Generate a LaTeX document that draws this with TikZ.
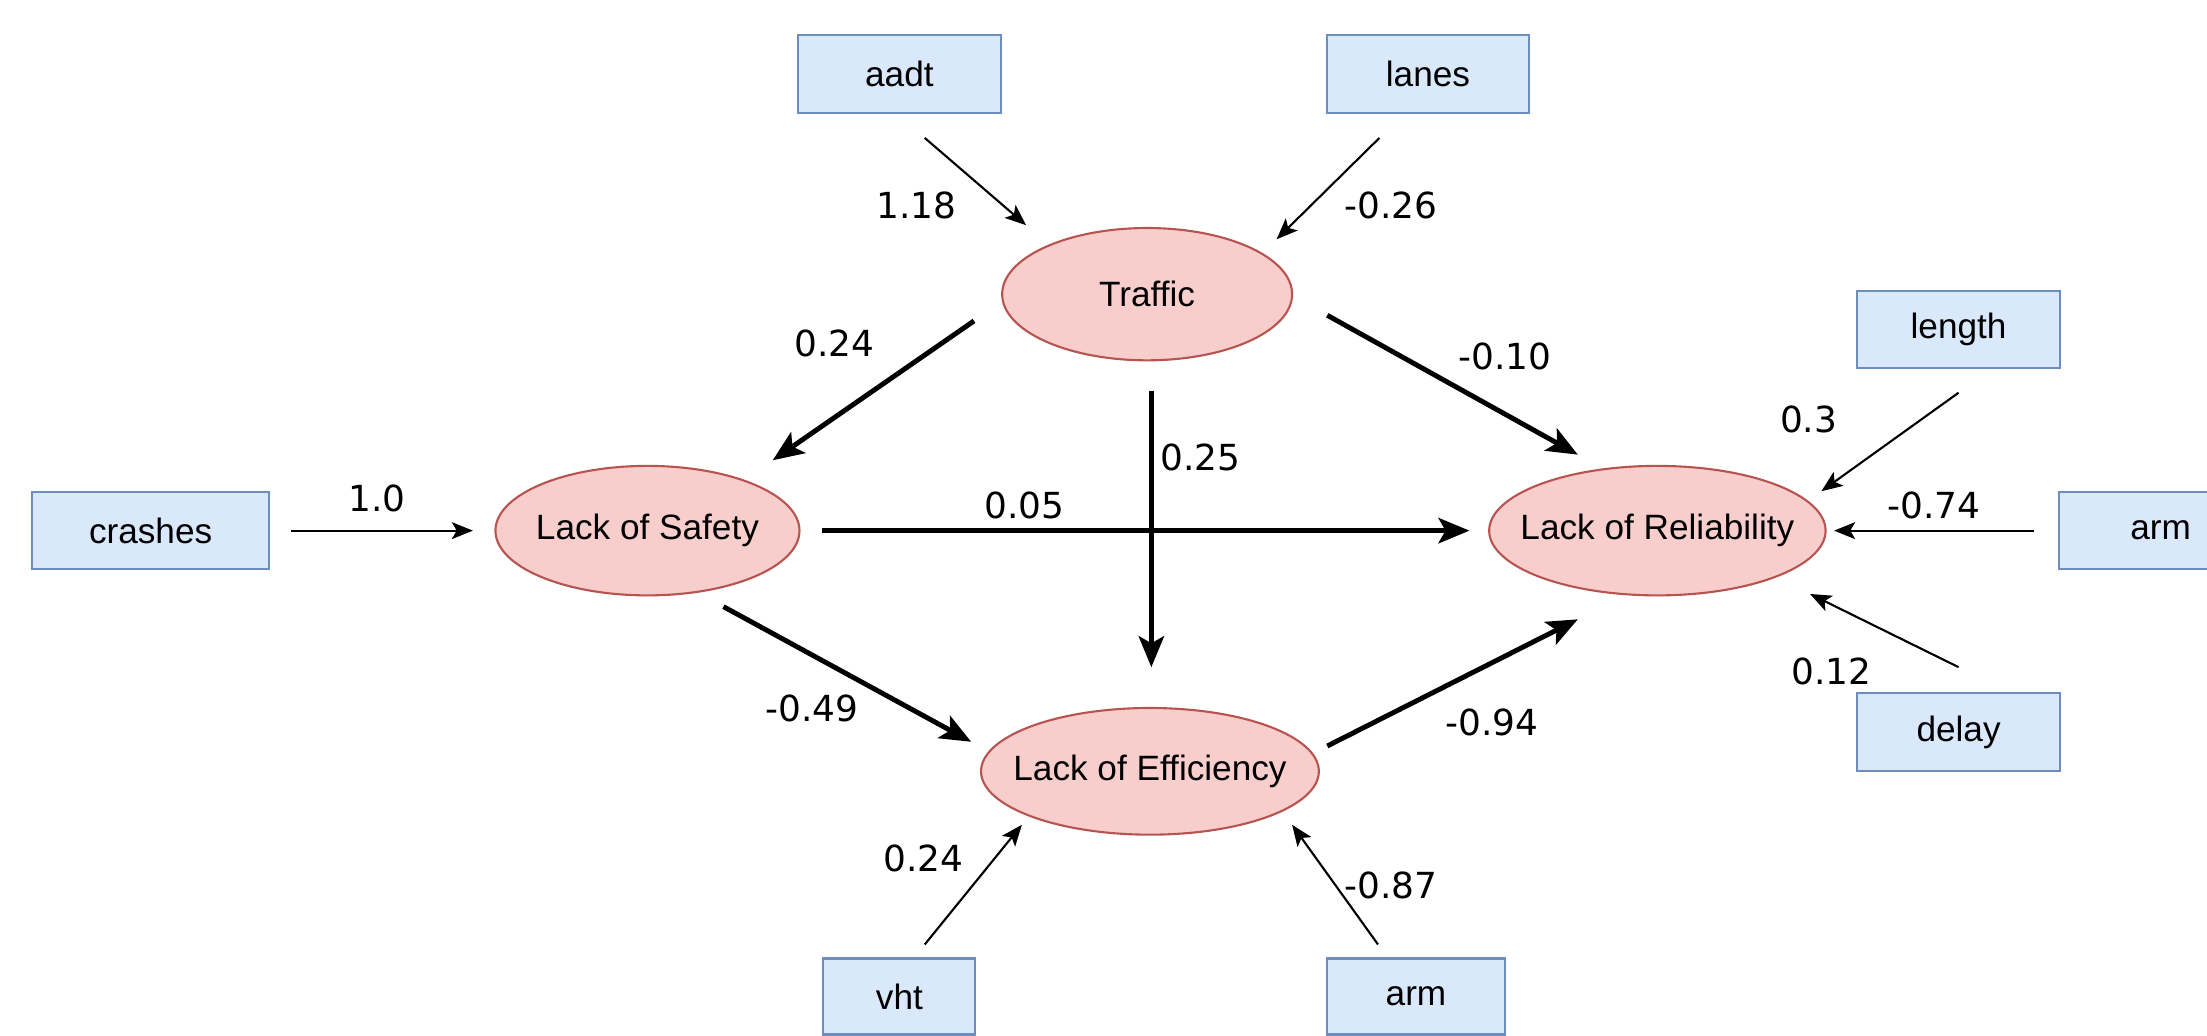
\documentclass[tikz,border=0pt]{standalone}
\usepackage{fontspec}
\setmainfont{Liberation Sans}
\newfontfamily\labelfont{DejaVu Sans}
\usetikzlibrary{shapes.geometric,arrows.meta,calc}
\definecolor{boxfill}{HTML}{DAE8FC}
\definecolor{boxdraw}{HTML}{6C8EBF}
\definecolor{ellfill}{HTML}{F8CECC}
\definecolor{elldraw}{HTML}{B85450}
\tikzset{
  obsbox/.style={draw=boxdraw, fill=boxfill, line width=1.5pt, rectangle, minimum width=144pt, minimum height=55pt, inner sep=0pt, font=\fontsize{25}{30}\selectfont},
  latent/.style={draw=elldraw, fill=ellfill, line width=1.5pt, ellipse, inner sep=0pt, label={[inner sep=0pt, font=\fontsize{25}{30}\selectfont]center:#1}},
  thinarrow/.style={line width=1.5pt, -{Stealth[length=15pt,width=12pt,inset=3.5pt]}},
  thickarrow/.style={line width=3.5pt, -{Stealth[length=22pt,width=18pt,inset=5pt]}},
  coef/.style={inner sep=0pt, font=\labelfont\fontsize{25.5}{30}\selectfont}
}
\begin{document}
\begin{tikzpicture}[x=1pt,y=-1pt]
\useasboundingbox (0,0) rectangle (1568,736);
\clip (0,0) rectangle (1568,736);
% observed variables
\node[obsbox] (aadt) at (639,52.5) {aadt};
\node[obsbox] (lanes) at (1014.5,52.5) {lanes};
\node[obsbox] (length) at (1391.5,234) {length};
\node[obsbox, minimum width=168pt] (crashes) at (107,377) {crashes};
\node[obsbox] (armR) at (1535,377) {arm};
\node[obsbox] (delay) at (1391.5,520) {delay};
\node[obsbox, minimum width=108pt, minimum height=54pt] (vht) at (639,708) {vht};
\node[obsbox, minimum width=126pt, minimum height=54pt] (armB) at (1006,708) {arm};
% latent variables
\node[latent={Traffic}, minimum width=206pt, minimum height=94pt] (traffic) at (815,209) {};
\node[latent={Lack of Safety}, minimum width=216pt, minimum height=92pt] (safety) at (460,377) {};
\node[latent={Lack of Reliability}, minimum width=239pt, minimum height=92pt] (rel) at (1177.5,377) {};
\node[latent={Lack of Efficiency}, minimum width=240pt, minimum height=90pt] (eff) at (817,548) {};
% thin arrows
\draw[thinarrow] ($(aadt)+(18,45.5)$) -- ($(traffic)+(-86,-49)$);
\draw[thinarrow] ($(lanes)+(-34.5,45.5)$) -- ($(traffic)+(92,-39)$);
\draw[thinarrow] ($(crashes)+(100,0)$) -- ($(safety)+(-124,0)$);
\draw[thinarrow] ($(length)+(0,45)$) -- ($(rel)+(116.5,-28)$);
\draw[thinarrow] ($(armR)+(-90,0)$) -- ($(rel)+(125.5,0)$);
\draw[thinarrow] ($(delay)+(0,-46)$) -- ($(rel)+(108.5,45)$);
\draw[thinarrow] ($(vht)+(18,-37)$) -- ($(eff)+(-91,38)$);
\draw[thinarrow] ($(armB)+(-27,-37)$) -- ($(eff)+(101,38)$);
% thick arrows
\draw[thickarrow] ($(traffic)+(-123,19)$) -- ($(safety)+(89,-50)$);
\draw[thickarrow] ($(traffic)+(128,15)$) -- ($(rel)+(-56.5,-54)$);
\draw[thickarrow] ($(traffic)+(3,69)$) -- ($(eff)+(1,-74)$);
\draw[thickarrow] ($(safety)+(124,0)$) -- ($(rel)+(-133.5,0)$);
\draw[thickarrow] ($(safety)+(54,54)$) -- ($(eff)+(-127,-21)$);
\draw[thickarrow] ($(eff)+(126,-18)$) -- ($(rel)+(-56.5,63)$);
% coefficients
\node[coef] (c1) at (651,146) {1.18};
\node[coef] (c2) at (988,146) {-0.26};
\node[coef] (c3) at (593,244) {0.24};
\node[coef] (c4) at (1069,253) {-0.10};
\node[coef] (c5) at (853,325) {0.25};
\node[coef] (c6) at (268,354) {1.0};
\node[coef] (c7) at (728,359) {0.05};
\node[coef] (c8) at (1285,298) {0.3};
\node[coef] (c9) at (1374,359) {-0.74};
\node[coef] (c10) at (577,503) {-0.49};
\node[coef] (c11) at (1060,513) {-0.94};
\node[coef] (c12) at (1301,477) {0.12};
\node[coef] (c13) at (656,610) {0.24};
\node[coef] (c14) at (988,629) {-0.87};
\end{tikzpicture}
\end{document}
